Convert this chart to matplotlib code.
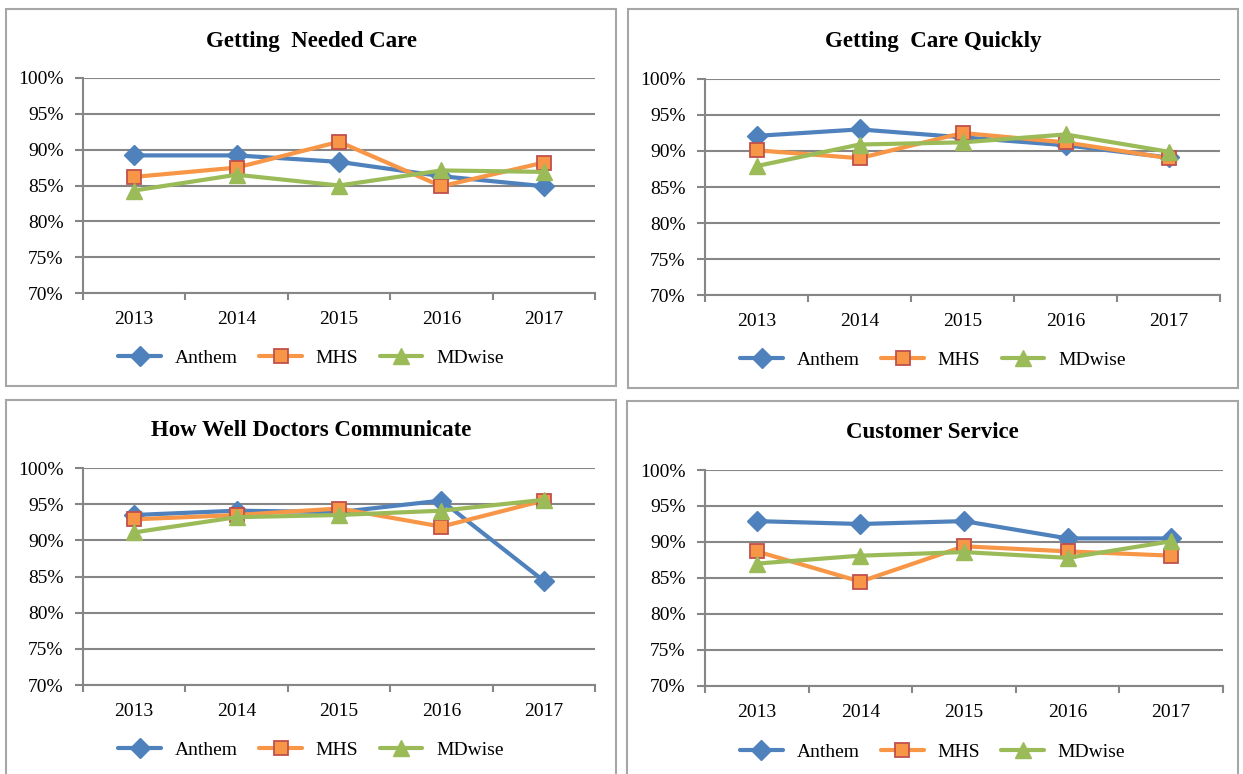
import matplotlib
matplotlib.use("Agg")
import matplotlib.pyplot as plt
from matplotlib.patches import Rectangle
from matplotlib.ticker import FuncFormatter, FixedLocator

plt.rcParams['font.family'] = ['Liberation Serif', 'DejaVu Serif']

years = ["2013", "2014", "2015", "2016", "2017"]
series_names = ["Anthem", "MHS", "MDwise"]
titles = ["Getting  Needed Care", "Getting  Care Quickly",
          "How Well Doctors Communicate", "Customer Service"]

anthem_needed = [89.2, 89.2, 88.3, 86.3, 84.9]
mhs_needed = [86.2, 87.5, 91.1, 84.9, 88.2]
mdwise_needed = [84.3, 86.5, 85.0, 87.1, 86.9]

anthem_quick = [92.1, 93.0, 91.9, 90.8, 89.1]
mhs_quick = [90.1, 89.0, 92.5, 91.2, 89.0]
mdwise_quick = [87.9, 90.9, 91.2, 92.3, 89.9]

anthem_comm = [93.5, 94.1, 93.9, 95.5, 84.4]
mhs_comm = [92.9, 93.5, 94.4, 91.9, 95.5]
mdwise_comm = [91.1, 93.2, 93.5, 94.1, 95.6]

anthem_cs = [92.9, 92.5, 92.9, 90.5, 90.5]
mhs_cs = [88.7, 84.5, 89.4, 88.7, 88.1]
mdwise_cs = [87.0, 88.1, 88.6, 87.8, 90.1]

panels = [
    (anthem_needed, mhs_needed, mdwise_needed),
    (anthem_quick, mhs_quick, mdwise_quick),
    (anthem_comm, mhs_comm, mdwise_comm),
    (anthem_cs, mhs_cs, mdwise_cs),
]

W, H = 1243, 774
fig = plt.figure(figsize=(W / 100, H / 100), dpi=100)

# pixel layouts (left, top, right, bottom)
boxes = [(6, 9, 616, 386), (628, 9, 1238, 388), (6, 400, 616, 790), (627, 401, 1238, 790)]
axes_px = [(83, 78, 595, 293), (705, 79, 1220, 295), (83, 468, 595, 685), (705, 470, 1223, 686)]
title_y = [41, 42, 431, 433]
legend_y = [358, 360, 750, 752]

styles = [
    dict(color="#4F81BD", marker="D", markersize=10, markerfacecolor="#4F81BD", markeredgecolor="#4F81BD"),
    dict(color="#F79646", marker="s", markersize=10, markerfacecolor="#F79646", markeredgecolor="#C0504D", markeredgewidth=1.3),
    dict(color="#9BBB59", marker="^", markersize=11, markerfacecolor="#9BBB59", markeredgecolor="#9BBB59"),
]
grid_c = "#868686"

def fx(x):
    return x / W

def fy(y):
    return 1 - y / H

for i in range(4):
    bl, bt, br, bb = boxes[i]
    fig.patches.append(Rectangle((fx(bl), fy(bb)), fx(br - bl), (bb - bt) / H,
                                 transform=fig.transFigure, fill=False,
                                 edgecolor="#a6a6a6", linewidth=1.5, zorder=0))
    l, t, r, b = axes_px[i]
    ax = fig.add_axes([fx(l), fy(b), fx(r - l), (b - t) / H])
    xs = list(range(len(years)))
    for name, vals, st in zip(series_names, panels[i], styles):
        ax.plot(xs, vals, label=name, linewidth=3, solid_capstyle="round",
                solid_joinstyle="round", **st, zorder=3)
    ax.set_xlim(-0.5, 4.5)
    ax.set_ylim(70, 100)
    ax.set_yticks(range(70, 101, 5))
    ax.yaxis.set_major_formatter(FuncFormatter(lambda v, p: f"{int(round(v))}%"))
    ax.set_xticks(xs)
    ax.set_xticklabels(years)
    ax.xaxis.set_minor_locator(FixedLocator([k - 0.5 for k in range(6)]))
    ax.tick_params(axis="x", which="major", length=0, pad=13, labelsize=14)
    ax.tick_params(axis="x", which="minor", length=5, width=1.5, color=grid_c, direction="out")
    ax.tick_params(axis="y", length=6, width=1.5, color=grid_c, pad=8, labelsize=14)
    ax.grid(axis="y", color=grid_c, linewidth=1.5, zorder=0)
    ax.set_axisbelow(True)
    for s in ("top", "right"):
        ax.spines[s].set_visible(False)
    for s in ("left", "bottom"):
        ax.spines[s].set_color(grid_c)
        ax.spines[s].set_linewidth(1.5)
    cx = fx((bl + br) / 2)
    fig.text(cx, fy(title_y[i]), titles[i], ha="center", va="center",
             fontsize=16.5, fontweight="bold")
    ax.legend(loc="center", bbox_to_anchor=(cx, fy(legend_y[i])),
              bbox_transform=fig.transFigure, ncol=3, frameon=False,
              fontsize=14, handlelength=2.2, handletextpad=0.7,
              columnspacing=1.1, borderaxespad=0)

fig.savefig("out.png", dpi=100)
